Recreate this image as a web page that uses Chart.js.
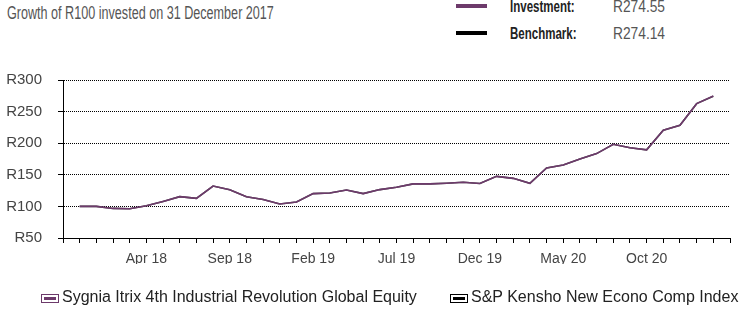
<!DOCTYPE html>
<html>
<head>
<meta charset="utf-8">
<script src="https://cdn.jsdelivr.net/npm/chart.js@4.4.1/dist/chart.umd.min.js"></script>
<style>
  html, body { margin: 0; padding: 0; background: #fff; }
  body { width: 741px; height: 314px; position: relative; overflow: hidden; font-family: "Liberation Sans", Arial, sans-serif; }
  #myChart { position: absolute; left: 0; top: 0; }
  .title { position: absolute; left: 7px; top: 3px; font-size: 17.5px; color: #555; white-space: nowrap; transform: scaleX(0.72); transform-origin: left top; }
  .key { position: absolute; font-size: 16px; line-height: 17px; }
  .key .ln { position: absolute; left: 0; top: 6px; width: 31px; height: 4px; }
  .key b { position: absolute; left: 54px; color: #222; white-space: nowrap; transform: scaleX(0.72); transform-origin: left top; }
  .key span.v { position: absolute; left: 157px; color: #555; white-space: nowrap; transform: scaleX(0.86); transform-origin: left top; }
  .leg { position: absolute; top: 288px; font-size: 16px; color: #222; white-space: nowrap; }
  .leg i { display: inline-block; width: 16px; height: 7px; border: 1.5px solid; position: relative; vertical-align: -1px; margin-right: 3px; }
  .leg i::after { content: ""; position: absolute; left: 2px; right: 2px; top: 2px; height: 3px; background: currentColor; }
</style>
</head>
<body>
<div class="title">Growth of R100 invested on 31 December 2017</div>
<div class="key" style="left:456px; top:-2px; width:280px;"><div class="ln" style="background:#6d3a6b"></div><b>Investment:</b><span class="v">R274.55</span></div>
<div class="key" style="left:456px; top:25px; width:280px;"><div class="ln" style="background:#000"></div><b>Benchmark:</b><span class="v">R274.14</span></div>
<canvas id="myChart" width="741" height="314"></canvas>
<div class="leg" style="left:41px;"><i style="color:#6d3a6b"></i>Sygnia Itrix 4th Industrial Revolution Global Equity</div>
<div class="leg" style="left:450px;"><i style="color:#000"></i>S&amp;P Kensho New Econo Comp Index</div>
<script>
(() => {
  'use strict'

  const months = [
    'Dec 17', 'Jan 18', 'Feb 18', 'Mar 18', 'Apr 18', 'May 18', 'Jun 18', 'Jul 18', 'Aug 18', 'Sep 18',
    'Oct 18', 'Nov 18', 'Dec 18', 'Jan 19', 'Feb 19', 'Mar 19', 'Apr 19', 'May 19', 'Jun 19', 'Jul 19',
    'Aug 19', 'Sep 19', 'Oct 19', 'Nov 19', 'Dec 19', 'Jan 20', 'Feb 20', 'Mar 20', 'Apr 20', 'May 20',
    'Jun 20', 'Jul 20', 'Aug 20', 'Sep 20', 'Oct 20', 'Nov 20', 'Dec 20', 'Jan 21', 'Feb 21'
  ];

  const investment = [
    100, 100, 96.8, 96.3, 101, 107.9, 115.4, 112.7, 132.2, 126.5,
    115.2, 111, 103.8, 107, 120.2, 121.2, 125.9, 120.2, 126.6, 130.3,
    135.6, 135.6, 136.7, 138.3, 136.2, 147.5, 144.4, 136.6, 160.9, 165.6,
    175.1, 183.5, 198.3, 192.7, 189.5, 220.6, 228.5, 262.6, 274.55
  ];

  const benchmark = [
    100, 100, 96.8, 96.3, 101, 107.9, 115.4, 112.7, 132.2, 126.5,
    115.2, 111, 103.8, 107, 120.2, 121.2, 125.9, 120.2, 126.6, 130.3,
    135.6, 135.6, 136.7, 138.3, 136.2, 147.5, 144.4, 136.6, 160.9, 165.6,
    175.1, 183.5, 198.3, 192.7, 189.5, 220.6, 228.5, 262.6, 274.14
  ];

  const yTicks = [50, 100, 150, 200, 250, 300];

  // one empty slot either side of the months, like the original axis
  const labels = [''].concat(months, ['']);
  const pad = arr => [null].concat(arr, [null]);

  const ctx = document.getElementById('myChart');

  new Chart(ctx, {
    type: 'line',
    data: {
      labels: labels,
      datasets: [{
        label: 'Sygnia Itrix 4th Industrial Revolution Global Equity',
        data: pad(investment),
        borderColor: '#6d3a6b',
        borderWidth: 1.6,
        pointRadius: 0,
        tension: 0
      }, {
        label: 'S&P Kensho New Econo Comp Index',
        data: pad(benchmark),
        borderColor: 'rgba(0,0,0,0.72)',
        borderWidth: 1.6,
        pointRadius: 0,
        tension: 0
      }]
    },
    options: {
      responsive: false,
      animation: false,
      devicePixelRatio: 1,
      layout: {
        padding: { left: 0, top: 80, right: 11, bottom: 50 }
      },
      scales: {
        x: {
          offset: false,
          grid: { drawOnChartArea: false, color: '#000', tickLength: 5 },
          border: { color: '#000', width: 1 },
          ticks: {
            autoSkip: false,
            maxRotation: 0,
            padding: 8,
            color: '#444',
            font: { family: 'Liberation Sans', size: 14 },
            callback: function (val, i) {
              return i % 5 === 0 ? this.getLabelForValue(val) : '';
            }
          },
          afterFit: s => { s.height = 26; }
        },
        y: {
          min: yTicks[0],
          max: yTicks[yTicks.length - 1],
          grid: { color: '#000', tickLength: 5, lineWidth: 1 },
          border: { color: '#000', width: 1, dash: [1, 1] },
          ticks: {
            stepSize: 50,
            padding: 16,
            color: '#444',
            font: { family: 'Liberation Sans', size: 15 },
            callback: v => 'R' + v
          },
          afterFit: s => { s.width = 63; }
        }
      },
      plugins: {
        legend: { display: false },
        tooltip: { enabled: false }
      }
    }
  });
})()
</script>
</body>
</html>
